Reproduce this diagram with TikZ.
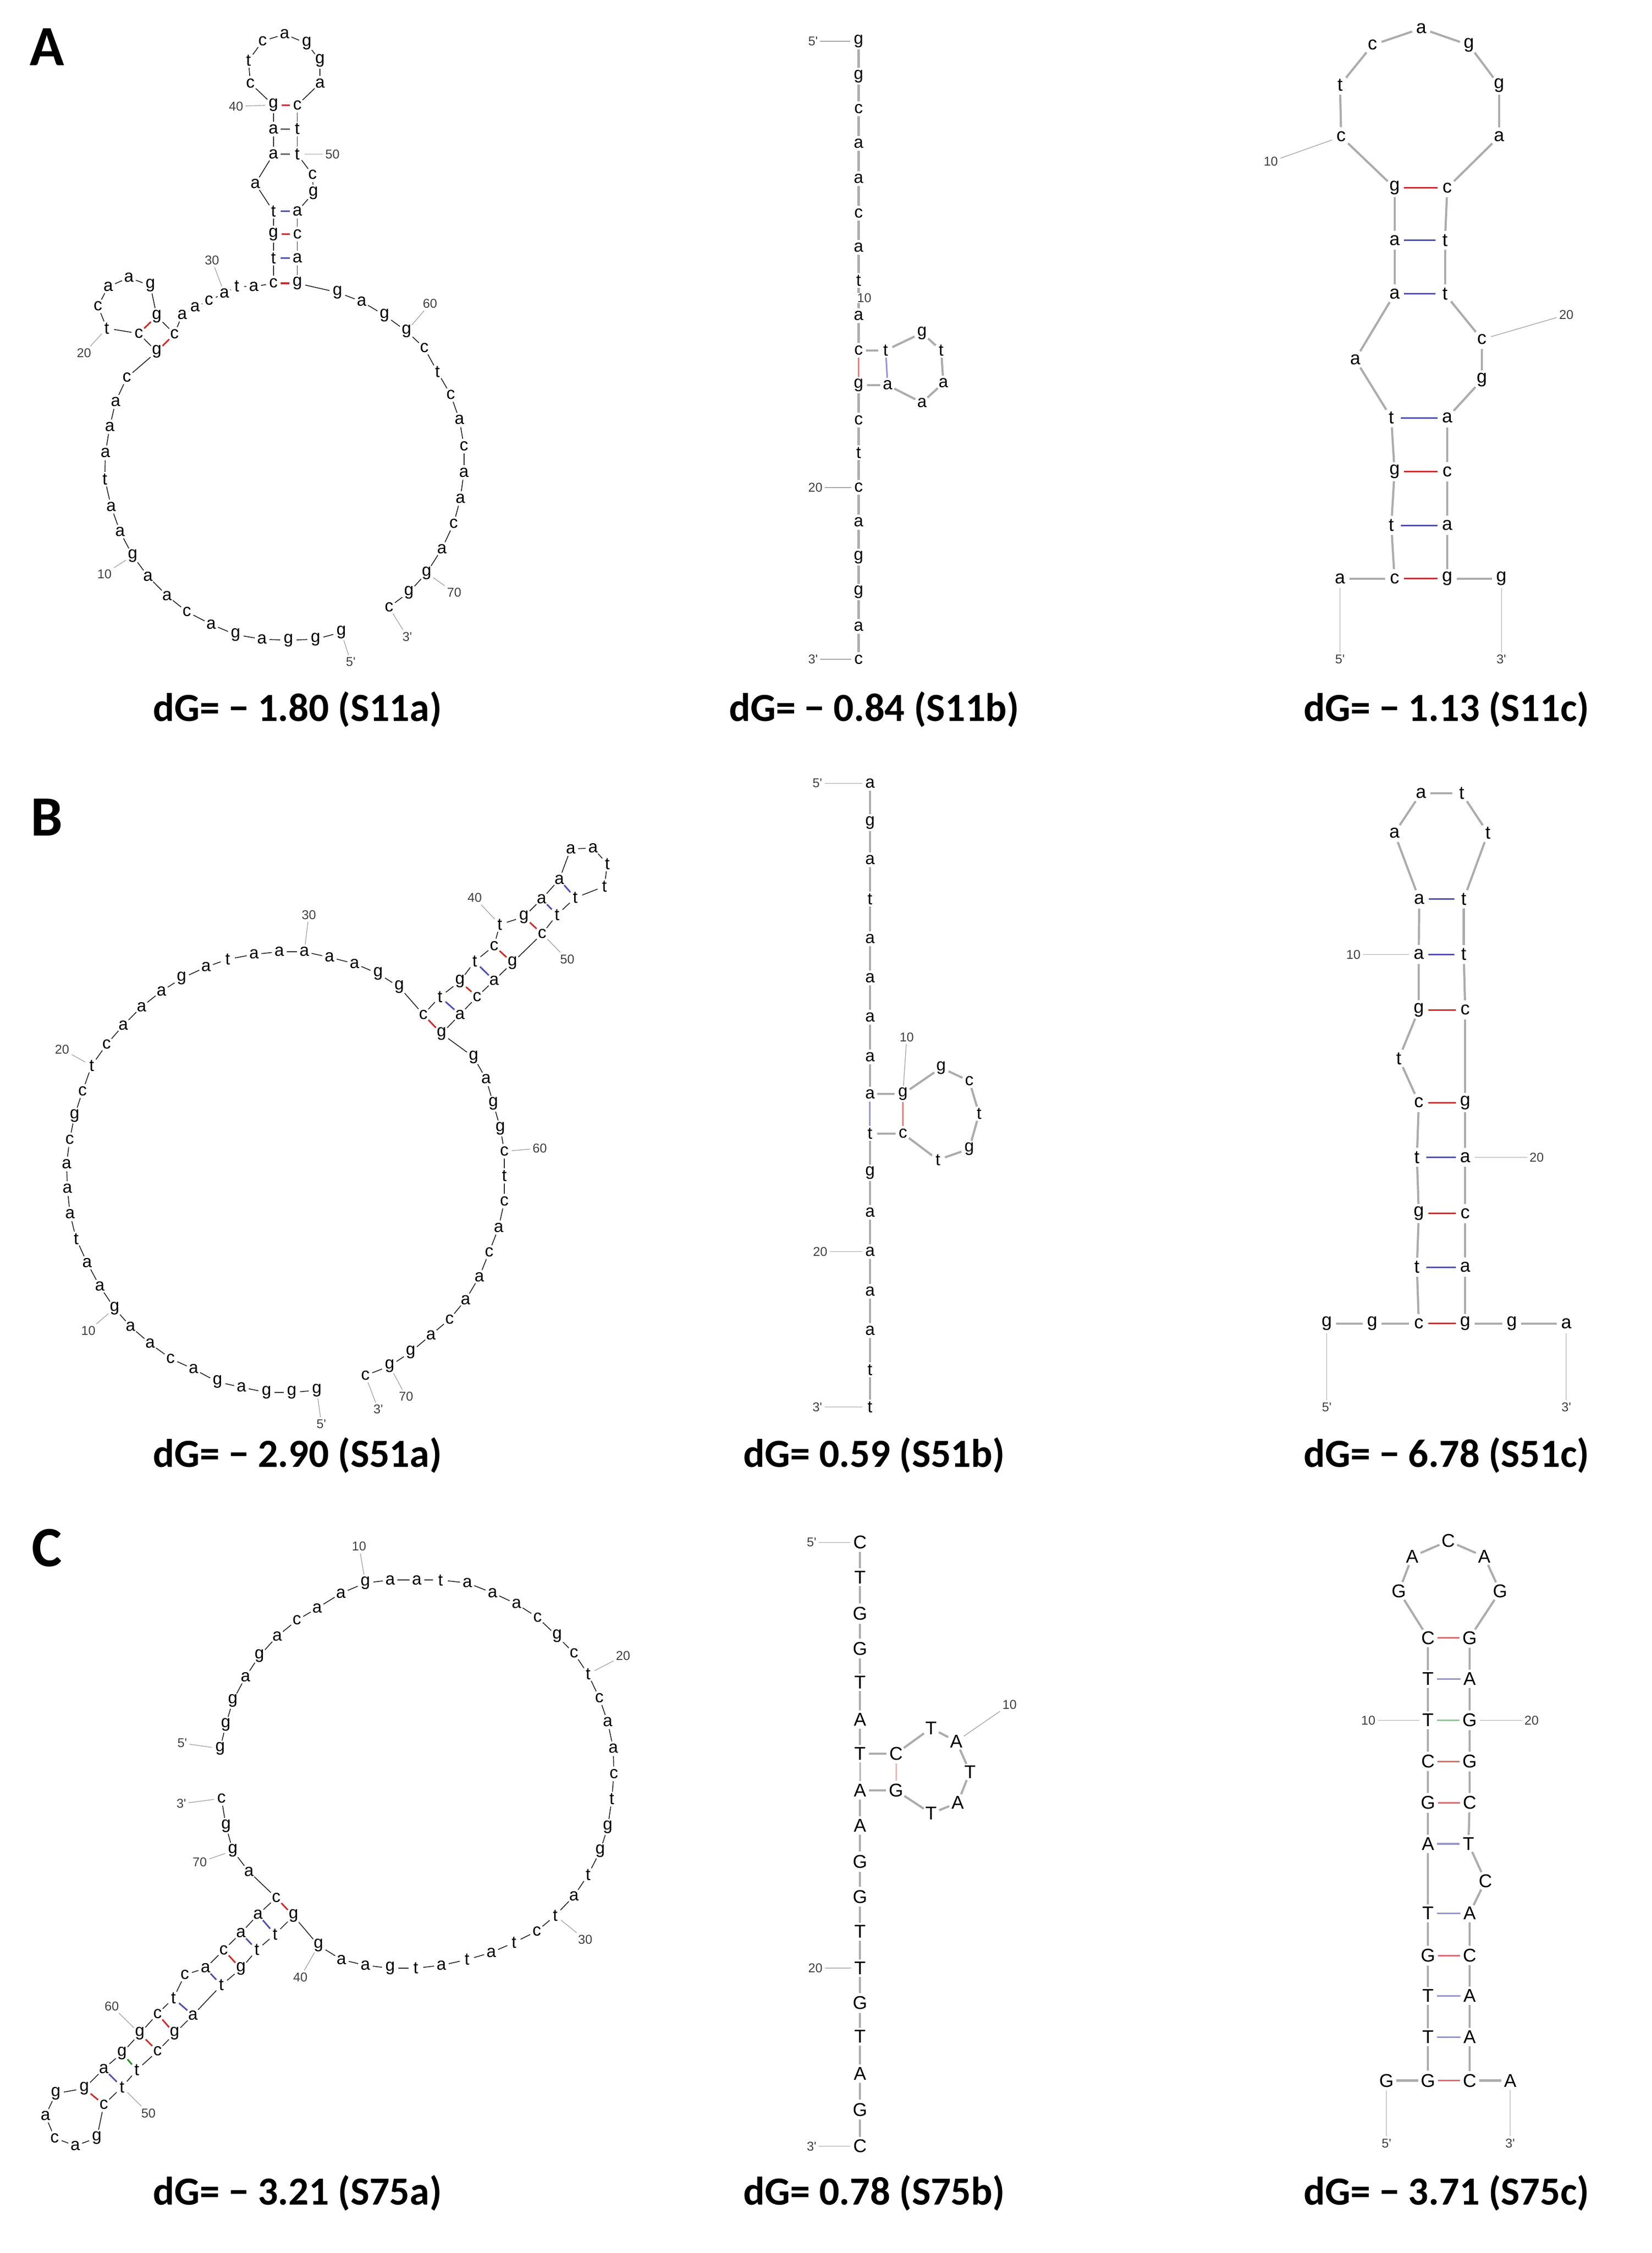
\documentclass[tikz,border=0pt]{standalone}
\usepackage{fontspec}
\newfontfamily\ntfont{Liberation Sans}
\newfontfamily\capfont{Carlito}
\definecolor{pr}{RGB}{205,45,45}
\definecolor{pb}{RGB}{80,80,175}
\definecolor{pg}{RGB}{40,140,40}
\newcommand{\mol}[4]{%
  \foreach \i/\l/\x/\y in {#4} {\node[nt] (#1\i) at (\x,\y) {\l};}
  \foreach \i in {1,...,#2} {\pgfmathtruncatemacro\j{\i+1}\draw[#3] (#1\i) -- (#1\j);}
}
\newcommand{\pairs}[2]{\foreach \a/\b/\c in {#2} {\draw[pair,\c] (#1\a) -- (#1\b);}}
\newcommand{\labs}[2]{\foreach \r/\t/\x/\y in {#2} {\node[lbl] (#1l\r) at (\x,\y) {\t}; \draw[lblline] (#1\r) -- (#1l\r);}}
\begin{document}
\begin{tikzpicture}[x=1pt,y=-1pt,
  ntsz/.style={font=\ntfont\fontsize{12}{12}\selectfont},
  nt/.style={circle,inner sep=0pt,minimum size=10pt,ntsz},
  bb/.style={black!85,line width=0.6pt},
  bbg/.style={gray!65,line width=1.5pt},
  pair/.style={line width=1.1pt},
  lbl/.style={font=\ntfont\fontsize{9}{9}\selectfont,text=black!75,inner sep=1.5pt},
  lblline/.style={gray!70,line width=0.5pt},
  captext/.style={font=\capfont\bfseries\fontsize{28}{30}\selectfont},
  panel/.style={font=\capfont\bfseries\fontsize{40}{40}\selectfont}]
\fill[white] (0,0) rectangle (1160,1582);
\useasboundingbox (0,0) rectangle (1160,1582);
% panel letters
\node[panel] (PA) at (33,33) {A};
\node[panel] (PB) at (33,574) {B};
\node[panel] (PC) at (33,1087) {C};
% captions
\node[captext] (c1) at (209,498) {dG= − 1.80 (S11a)};
\node[captext] (c2) at (614,498) {dG= − 0.84 (S11b)};
\node[captext] (c3) at (1016,498) {dG= − 1.13 (S11c)};
\node[captext] (c4) at (209,1022) {dG= − 2.90 (S51a)};
\node[captext] (c5) at (614,1022) {dG= 0.59 (S51b)};
\node[captext] (c6) at (1016,1022) {dG= − 6.78 (S51c)};
\node[captext] (c7) at (209,1540) {dG= − 3.21 (S75a)};
\node[captext] (c8) at (614,1540) {dG= 0.78 (S75b)};
\node[captext] (c9) at (1016,1540) {dG= − 3.71 (S75c)};
% ---------------- A a
\mol{Aa}{71}{bb}{1/g/239.7/444, 2/g/221.6/448.8, 3/g/202.6/449.6, 4/a/184/448.8, 5/g/165.4/445.6, 6/a/148.3/438.4, 7/c/131.2/429.5, 8/a/117.3/418.3, 9/a/103.9/404.7, 10/g/93.2/390.2, 11/a/84.3/373.4, 12/a/78.1/355.8, 13/t/73.6/336.5, 14/a/74/318, 15/a/77.1/299.6, 16/a/81.2/282, 17/c/89.1/265.1, 18/g/110.1/247, 19/c/97.5/234.2, 20/t/75/230.5, 21/c/68.8/215, 22/a/76/201.3, 23/a/90.5/195, 24/g/105.6/200.5, 25/g/110.1/222, 26/c/122.5/234.5, 27/a/128/221, 28/a/137/215.7, 29/c/146.8/211, 30/a/157.6/206, 31/t/166.3/201, 32/a/178.2/201.3, 33/c/192/198.9, 34/t/192/181.2, 35/g/192/164.4, 36/t/192/148.4, 37/a/179.3/129, 38/a/192/108.3, 39/a/192/90.6, 40/g/192/73.8, 41/c/175.8/58.5, 42/t/174.5/42.5, 43/c/184.4/28.9, 44/a/199.9/24, 45/g/215.4/30.5, 46/g/224.7/42.5, 47/a/224.7/58.5, 48/c/208.8/73.8, 49/t/208.8/90.6, 50/t/208.8/108.3, 51/c/219.5/122.7, 52/g/220.1/135.5, 53/a/208.8/148.4, 54/c/208.8/164.4, 55/a/208.8/181.2, 56/g/208.8/198.9, 57/g/237/205.3, 58/a/254/211.7, 59/g/270/221.3, 60/g/285.5/232.6, 61/c/298/244.3, 62/t/307.2/261.1, 63/c/316.5/277.2, 64/a/322.7/294.8, 65/c/325.8/313.2, 66/a/325.8/331.7, 67/a/323.3/350.1, 68/c/318.6/367.8, 69/a/310.3/385.4, 70/g/299.6/402.3, 71/g/287.2/415.9, 72/c/273.2/426.3}
\pairs{Aa}{33/56/pr, 34/55/pb, 35/54/pr, 36/53/pb, 38/50/black!60, 39/49/black!60, 40/48/pr, 19/25/pr, 18/26/pr}
\labs{Aa}{10/10/73.4/403, 20/20/59/248, 30/30/148.9/182.9, 40/40/165.8/74.6, 50/50/233.5/108.3, 60/60/302/213.3, 70/70/319/416, 1/5'/246.3/464.8, 72/3'/286/447.2}
% ---------------- B a
\mol{Ba}{70}{bb}{1/g/222.5/976.2, 2/g/204.9/977.7, 3/g/187.2/977.7, 4/a/169.6/974.1, 5/g/152.7/970.3, 6/a/135.9/961.3, 7/c/119.8/953.9, 8/a/105.4/943.4, 9/a/91.7/931.5, 10/g/80.5/918.7, 11/a/70.1/903.2, 12/a/61.2/886.8, 13/t/53.5/869.8, 14/a/49.2/852.5, 15/a/47.3/834.6, 16/a/46.8/817.3, 17/c/48.9/800.3, 18/g/52.4/783.3, 19/c/58/766.1, 20/t/64.4/748.2, 21/c/74.9/733.3, 22/a/86.6/719.9, 23/a/99.4/707, 24/a/113.4/696, 25/g/127.5/687, 26/a/144.7/679, 27/t/159.9/673.6, 28/a/178.4/670.1, 29/a/196.1/668.3, 30/a/213.7/668.3, 31/a/231.4/672.2, 32/a/249/676.6, 33/g/265.5/683.6, 34/g/280.4/693, 35/c/297.3/712.4, 36/t/309/699.9, 37/g/323/689.1, 38/t/333.4/675.1, 39/c/347/664.1, 40/t/351/649.2, 41/g/367.9/643.8, 42/a/380.4/631.3, 43/a/392.8/617.6, 44/a/400.8/596.1, 45/a/416.5/595.5, 46/t/426.5/606.6, 47/t/424.5/622.4, 48/t/404/630.4, 49/t/391.2/642.3, 50/c/380.7/655.7, 51/g/359.9/676, 52/a/347/688.5, 53/c/335/699.9, 54/a/323/712.4, 55/g/310.1/725.8, 56/g/332.6/742.2, 57/a/341.4/757.7, 58/g/346.5/775, 59/g/351.4/792.3, 60/c/354.2/808.4, 61/t/354.2/825.7, 62/c/354.2/843.5, 63/a/350.2/862, 64/c/343.5/879.3, 65/a/336.6/896.6, 66/a/327/912.7, 67/c/315.7/926.4, 68/a/302.6/937.4, 69/g/288.4/949.4, 70/g/273.7/959.2, 71/c/256.6/965.8}
\pairs{Ba}{35/55/pr, 36/54/pb, 37/53/pr, 38/52/pb, 39/51/pr, 41/50/pr, 42/49/pb, 43/48/pb}
\labs{Ba}{10/10/62/934.5, 20/20/43.6/736.8, 30/30/216.9/642.3, 40/40/333.4/630.4, 50/50/398.4/673.6, 60/60/379.1/806.3, 70/70/285.2/980.7, 1/5'/225.7/1000, 71/3'/265.6/989.6}
% ---------------- C a
\mol{Ca}{71}{bb}{1/g/154.6/1227.8, 2/g/158.6/1211, 3/g/163.5/1194.3, 4/a/172.4/1177.5, 5/g/182.2/1162.7, 6/a/194.7/1148.9, 7/c/208.5/1137.7, 8/a/222.7/1129.2, 9/a/239.4/1118.8, 10/g/256.6/1111.5, 11/a/274/1109.5, 12/a/292.7/1109.5, 13/t/309.4/1109.5, 14/a/328.2/1111.5, 15/a/345.9/1118.4, 16/a/362.7/1126.2, 17/c/377.5/1135.7, 18/g/391.3/1148.9, 19/c/403.1/1160.8, 20/t/413/1175.5, 21/c/420.9/1192.3, 22/a/426.8/1209.1, 23/a/430.7/1227.8, 24/c/431.1/1245.5, 25/t/429.7/1263.3, 26/g/426.8/1283, 27/g/421.5/1299.8, 28/t/413/1316.5, 29/a/403.1/1331.3, 30/t/390/1345, 31/c/377/1356, 32/t/361/1364, 33/a/345/1371, 34/t/328/1376, 35/a/310/1380, 36/t/292/1382, 37/g/274/1382, 38/a/256.6/1380, 39/a/239.8/1376, 40/g/223.7/1366, 41/g/206.1/1345.3, 42/t/193.2/1358.2, 43/t/180.4/1369.2, 44/g/169.2/1382.4, 45/t/155.5/1393.9, 46/a/135.5/1415, 47/g/122.6/1427.9, 48/c/110.6/1440.3, 49/t/96.1/1453.5, 50/t/85.7/1465.5, 51/c/72.9/1477.8, 52/g/68/1501.2, 53/a/52.8/1506.7, 54/c/38.4/1501.2, 55/a/31.9/1485.6, 56/g/39.2/1470, 57/g/59.2/1466.4, 58/a/72.9/1452.6, 59/g/85.7/1441.6, 60/g/98.2/1427.9, 61/c/110.6/1414.1, 62/t/121.8/1403.1, 63/c/129.8/1386.6, 64/a/144.3/1382, 65/c/157.1/1369.2, 66/a/169.2/1357.3, 67/a/181.2/1344.4, 68/c/194/1332.5, 69/a/174.8/1314.2, 70/g/163.5/1299.5, 71/g/158.7/1282.1, 72/c/155.5/1262.8}
\pairs{Ca}{41/68/pr, 42/67/pb, 43/66/pb, 44/65/pr, 45/64/pb, 46/62/pb, 47/61/pr, 48/60/pr, 49/59/pg, 50/58/pb, 51/57/pr}
\labs{Ca}{10/10/252.2/1085.8, 20/20/437.6/1162.7, 30/30/411/1362, 40/40/210.9/1388.4, 50/50/104.2/1483.8, 60/60/78.5/1408.6, 70/70/140.3/1307.7, 1/5'/128/1224, 72/3'/127.4/1266.5}
% ---------------- A b
\mol{Ab}{24}{bbg}{1/g/603/29, 2/g/603/53.5, 3/c/603/76.4, 4/a/603/100.8, 5/a/603/125.3, 6/c/603/149.7, 7/a/603/173.6, 8/t/603/197.1, 9/a/603/221.6, 10/c/603/246, 11/t/622/246, 12/g/647.5/233.8, 13/t/661/246, 14/a/662.5/269, 15/a/647.5/282.7, 16/a/623.4/270.5, 17/g/603/270.5, 18/c/603/294.9, 19/t/603/317.8, 20/c/603/342.3, 21/a/603/366.7, 22/g/603/391.2, 23/g/603/415.6, 24/a/603/440, 25/c/603/463}
\pairs{Ab}{10/17/pr!60, 11/16/pb!60}
\labs{Ab}{1/5'/571/29, 20/20/572.6/342.3, 25/3'/571/463}
\node[lbl,fill=white,inner sep=0.5pt] (Ab-ten) at (607,209.3) {10};
% ---------------- B b
\mol{Bb}{23}{bbg}{1/a/611/550, 2/g/611/577.6, 3/a/611/603.8, 4/t/611/631.4, 5/a/611/659.1, 6/a/611/686.8, 7/a/611/714.4, 8/a/611/742.1, 9/a/611/768.2, 10/g/634.1/768.2, 11/g/660.9/749.8, 12/c/680.7/759, 13/t/687.6/782, 14/g/680.7/806.7, 15/t/658.7/814.4, 16/c/634.1/795.9, 17/t/611/795.9, 18/g/611/823.6, 19/a/611/851.2, 20/a/611/878.9, 21/a/611/906.6, 22/a/611/934.2, 23/t/611/961.9, 24/t/611/988}
\pairs{Bb}{9/17/pb!60, 10/16/pr!60}
\labs{Bb}{1/5'/574/550, 10/10/636.8/728.3, 20/20/576/878.9, 24/3'/574/988}
% ---------------- C b
\begin{scope}[ntsz/.style={font=\ntfont\fontsize{13}{13}\selectfont}]
\mol{Cb}{24}{bbg}{1/C/604/1083, 2/T/604/1107.5, 3/G/604/1133, 4/G/604/1157.6, 5/T/604/1181.3, 6/A/604/1207.4, 7/T/604/1231.3, 8/C/629.3/1231.3, 9/T/653.9/1213.5, 10/A/671.6/1222.7, 11/T/681.2/1244.2, 12/A/672.6/1265.8, 13/T/653.9/1273.4, 14/G/629.3/1257.2, 15/A/604/1257.2, 16/A/604/1281.7, 17/G/604/1307.2, 18/G/604/1331.8, 19/T/604/1356.4, 20/T/604/1381.9, 21/G/604/1406.4, 22/T/604/1430.1, 23/A/604/1456.2, 24/G/604/1481.4, 25/C/604/1507}
\pairs{Cb}{7/15/gray!60, 8/14/pr!35}
\labs{Cb}{1/5'/570/1083, 10/10/709/1197, 20/20/572.6/1382, 25/3'/570/1507}
\end{scope}
% ---------------- A c
\begin{scope}[ntsz/.style={font=\ntfont\fontsize{13}{13}\selectfont},nt/.append style={minimum size=13pt}]
\mol{Ac}{25}{bbg}{1/a/941.1/406.3, 2/c/979.4/406.3, 3/t/977.1/368.9, 4/g/979.4/331.2, 5/t/977.1/293.4, 6/a/951.8/252.4, 7/a/979.4/206.4, 8/a/979.4/168.7, 9/g/979.4/131.9, 10/c/941.9/96, 11/t/941.1/59.8, 12/c/963.9/31.6, 13/a/998.1/20, 14/g/1031.6/31.6, 15/g/1052.8/59.8, 16/a/1052.8/96, 17/c/1016.4/131.9, 18/t/1014.8/168.7, 19/t/1014.8/206.4, 20/c/1040.7/238.3, 21/g/1040.7/266.8, 22/a/1016.4/293.4, 23/c/1016.4/331.2, 24/a/1016.4/368.9, 25/g/1016.4/406.3, 26/g/1054.4/406.3}
\pairs{Ac}{9/17/pr, 8/18/pb, 7/19/pb, 5/22/pb, 4/23/pr, 3/24/pb, 2/25/pr}
\labs{Ac}{1/5'/941.1/463, 26/3'/1054.4/463, 10/10/892.5/113.5, 20/20/1100/221}
% ---------------- B c
\mol{Bc}{24}{bbg}{1/g/931.8/929.4, 2/g/963.7/929.4, 3/c/996.4/929.4, 4/t/995.1/889.8, 5/g/996.4/852.1, 6/t/995.1/812.6, 7/c/996.4/774.2, 8/t/982.4/743.2, 9/g/996.4/709.1, 10/a/996.4/670.2, 11/a/996.7/631.3, 12/a/979.3/585, 13/a/997.9/557, 14/t/1026.5/557, 15/t/1045/585, 16/t/1028/631.3, 17/t/1028/670.2, 18/c/1029/709.1, 19/g/1029/774.2, 20/a/1029/812.6, 21/c/1029/852.1, 22/a/1029/889.8, 23/g/1029/929.4, 24/g/1061.7/929.4, 25/a/1100/929.4}
\pairs{Bc}{11/16/pb, 10/17/pb, 9/18/pr, 7/19/pr, 6/20/pb, 5/21/pr, 4/22/pb, 3/23/pr}
\labs{Bc}{1/5'/931.8/988, 25/3'/1100/988, 10/10/950.5/670.2, 20/20/1079.2/812.6}
\end{scope}
% ---------------- C c
\begin{scope}[ntsz/.style={font=\ntfont\fontsize{13}{13}\selectfont},nt/.append style={minimum size=12pt}]
\mol{Cc}{29}{bbg}{1/G/973.7/1460.9, 2/G/1002.9/1460.9, 3/T/1002.9/1430.4, 4/T/1002.9/1401.4, 5/G/1002.9/1373.1, 6/T/1002.9/1343.5, 7/A/1002.9/1294.7, 8/G/1002.9/1265.8, 9/C/1002.9/1236.8, 10/T/1002.9/1207.9, 11/T/1002.9/1178.9, 12/C/1002.9/1150, 13/G/982.4/1117.4, 14/A/991.8/1093, 15/C/1017.1/1082, 16/A/1042.4/1093, 17/G/1053.5/1117.4, 18/G/1032.1/1150, 19/A/1032.1/1178.9, 20/G/1032.1/1207.9, 21/G/1032.1/1236.8, 22/C/1032.1/1265.8, 23/T/1031.3/1294.7, 24/C/1043.2/1320.7, 25/A/1032.1/1343.5, 26/C/1032.1/1373.1, 27/A/1032.1/1401.4, 28/A/1032.1/1430.4, 29/C/1032.1/1460.9, 30/A/1060.6/1460.9}
\pairs{Cc}{12/18/pr!70, 11/19/pb!60, 10/20/pg!50, 9/21/pr!70, 8/22/pr!70, 7/23/pb!60, 6/25/pb!60, 5/26/pr!70, 4/27/pb!60, 3/28/pb!60, 2/29/pr!70}
\labs{Cc}{1/5'/973.7/1505, 30/3'/1060.6/1505, 10/10/961/1207.9, 20/20/1075.6/1207.9}
\end{scope}
\end{tikzpicture}
\end{document}
